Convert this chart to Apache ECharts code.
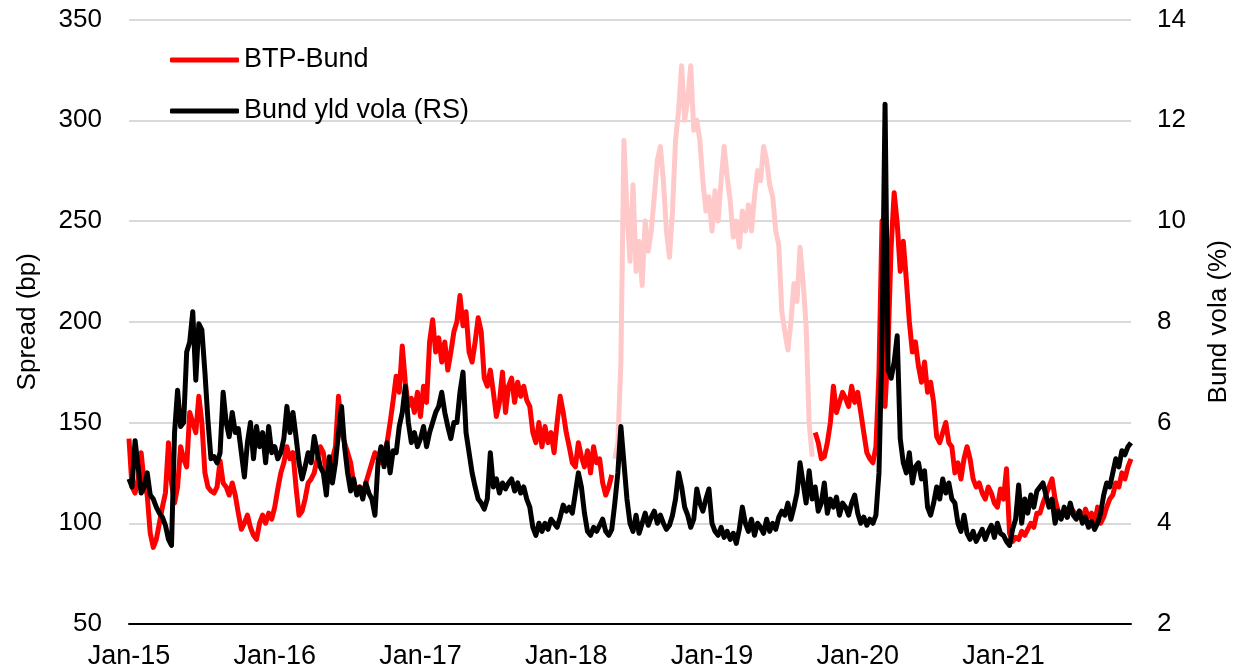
<!DOCTYPE html>
<html>
<head>
<meta charset="utf-8">
<title>BTP-Bund spread vs Bund yield volatility</title>
<script src="https://cdn.jsdelivr.net/npm/echarts@6/dist/echarts.min.js"></script>
<style>
  html, body { margin: 0; padding: 0; background: #fff; }
  #chart { width: 1240px; height: 671px; }
</style>
</head>
<body>
<div id="chart"></div>
<script>
// weekly observations (1st, 8th, 16th, 23rd of each month), Jan-15 .. mid Nov-21
const weekDays = [1, 8, 16, 23];
const firstYear = 2015;

// BTP-Bund spread, bp
const spread2015 = [142,118,115,122, 135,120,114,95, 88,92,100,108, 115,140,120,110,
  118,138,132,128, 155,150,145,163, 150,125,118,116, 115,118,131,120,
  118,114,120,114, 105,97,100,104, 98,94,92,100, 104,100,105,102];
const spread2016 = [108,117,125,130, 138,132,135,118, 104,106,112,120, 122,125,132,138,
  135,125,128,132, 138,163,145,140, 135,130,120,116, 118,114,120,125,
  130,135,132,130, 135,140,150,161, 173,165,188,170, 158,162,155,165];
const spread2017 = [153,168,160,190, 201,185,192,180, 190,176,185,195, 200,213,198,205,
  185,180,190,202, 195,172,168,176, 165,153,160,175, 155,168,172,160,
  170,163,168,161, 158,145,140,150, 138,148,140,145, 135,150,163,155];
const spread2018 = [145,138,130,128, 140,133,128,136, 125,138,130,132, 120,114,118,124,
  132,140,180,290, 255,230,268,225, 240,218,250,235, 245,262,280,287,
  270,245,232,255, 290,305,327,300, 310,327,295,300, 290,270,255,262];
const spread2019 = [245,265,250,270, 287,272,260,242, 250,237,255,245, 258,245,262,275,
  270,287,280,268, 262,245,238,205, 195,186,200,219, 210,237,220,198,
  150,133,145,140, 132,133,140,150, 168,155,160,165, 162,158,168,160];
const spread2020 = [165,155,145,135, 132,130,138,175, 250,158,188,237, 264,249,225,240,
  221,200,185,190, 178,170,180,165, 170,160,143,140, 145,150,140,138,
  125,130,122,132, 138,132,122,118, 120,115,112,118, 115,110,108,117];
const spread2021 = [112,127,95,91, 93,92,96,94, 97,100,98,105, 105,110,114,118,
  122,112,106,104, 105,103,108,106, 104,106,102,107, 103,105,100,108,
  100,103,108,112, 114,120,118,125, 122,128,132];

// Bund 10y yield volatility, % (right scale)
const vola2015 = [4.88,4.72,5.64,5.12, 4.6,4.72,5.0,4.56, 4.48,4.32,4.2,4.12, 3.96,3.68,3.56,5.8,
  6.64,5.92,6.0,7.4, 7.6,8.2,6.84,7.96, 7.84,7.0,6.04,5.28, 5.32,5.2,5.4,6.6,
  6.0,5.72,6.2,5.8, 5.88,5.4,4.92,5.6, 6.0,5.28,5.92,5.52, 5.8,5.2,5.92,5.4];
const vola2016 = [5.52,5.28,5.4,5.68, 6.32,5.8,6.2,5.72, 5.2,4.88,5.12,5.4, 5.2,5.72,5.4,5.12,
  5.0,4.56,5.32,4.8, 5.2,5.8,6.32,5.52, 5.0,4.64,4.88,4.56, 4.72,4.48,4.8,4.6,
  4.48,4.16,5.2,5.52, 5.12,5.6,5.0,5.44, 5.4,5.92,6.2,6.72, 6.0,5.6,5.8,5.52];
const vola2017 = [5.68,5.92,5.52,5.8, 6.0,6.2,6.32,6.6, 6.2,5.92,5.68,6.0, 6.0,6.6,7.0,5.8,
  5.4,5.0,4.72,4.48, 4.4,4.28,4.48,5.4, 4.72,4.88,4.6,4.8, 4.68,4.8,4.88,4.64,
  4.8,4.6,4.72,4.48, 4.32,3.92,3.76,4.0, 3.84,4.0,3.88,4.08, 4.0,3.92,4.12,4.36];
const vola2018 = [4.24,4.32,4.2,4.6, 5.0,4.72,4.2,3.84, 3.76,3.92,3.84,3.96, 4.08,3.84,3.76,3.88,
  4.4,5.0,5.92,5.2, 4.48,4.0,3.84,4.16, 3.8,4.0,4.2,3.96, 4.12,4.24,4.0,4.16,
  4.0,3.88,3.96,4.16, 4.48,5.0,4.72,4.32, 4.16,3.92,4.08,4.68, 4.4,4.24,4.48,4.68];
const vola2019 = [4.0,3.84,3.76,3.92, 3.72,3.84,3.68,3.8, 3.6,3.88,4.32,4.0, 3.84,4.08,3.76,4.0,
  3.92,3.8,4.08,3.84, 4.0,3.88,4.12,4.24, 4.16,4.4,4.08,4.32, 4.6,5.2,4.8,4.4,
  5.04,4.48,4.72,4.24, 4.4,4.8,4.2,4.48, 4.32,4.52,4.16,4.4, 4.32,4.16,4.4,4.56];
const vola2020 = [4.2,4.0,4.12,3.96, 4.08,4.0,4.16,5.0, 7.6,12.32,7.04,6.88, 7.2,7.72,5.68,5.2,
  5.0,5.4,4.8,5.12, 5.2,4.88,5.04,4.32, 4.16,4.4,4.72,4.48, 4.88,4.6,4.8,4.48,
  4.4,4.0,3.84,4.16, 3.8,3.68,3.84,3.64, 3.76,3.88,3.68,3.84, 3.96,3.72,4.0,3.8];
const vola2021 = [3.76,3.64,3.56,3.88, 4.08,4.76,4.0,4.48, 4.2,4.56,4.32,4.64, 4.72,4.8,4.56,4.32,
  4.48,4.0,4.24,4.08, 4.32,4.12,4.4,4.16, 4.08,4.24,4.0,4.12, 3.92,4.04,3.88,4.0,
  4.2,4.56,4.8,4.72, 5.0,5.28,5.12,5.44, 5.36,5.52,5.6];

// stretch of the spread drawn faded in the original
const fadedFrom = '2018-05-01';
const fadedTo = '2019-09-08';

const spread = [].concat(spread2015, spread2016, spread2017, spread2018, spread2019, spread2020, spread2021);
const vola = [].concat(vola2015, vola2016, vola2017, vola2018, vola2019, vola2020, vola2021);

const monthNames = ['Jan','Feb','Mar','Apr','May','Jun','Jul','Aug','Sep','Oct','Nov','Dec'];
const pad = n => (n < 10 ? '0' : '') + n;
const dates = [];
for (let i = 0; i < spread.length; i++) {
  const m = Math.floor(i / 4);
  const y = firstYear + Math.floor(m / 12);
  dates.push(y + '-' + pad(m % 12 + 1) + '-' + pad(weekDays[i % 4]));
}

const inFaded = d => d >= fadedFrom && d <= fadedTo;
const spreadMain = spread.map((v, i) => (inFaded(dates[i]) ? null : v));
const spreadFaded = spread.map((v, i) => (inFaded(dates[i]) ? v : null));

const font = 'Liberation Sans, Arial, sans-serif';

const chart = echarts.init(document.getElementById('chart'));
const option = {
  animation: false,
  backgroundColor: '#fff',
  textStyle: { fontFamily: font },
  grid: { left: 129, right: 108, top: 19.5, bottom: 47 },
  legend: {
    orient: 'vertical',
    left: 165,
    top: 40,
    itemWidth: 69,
    itemHeight: 5,
    itemGap: 21,
    icon: 'roundRect',
    data: ['BTP-Bund', 'Bund yld vola (RS)'],
    textStyle: { fontSize: 27, color: '#000', fontFamily: font, lineHeight: 30 }
  },
  xAxis: {
    type: 'category',
    boundaryGap: false,
    data: dates,
    axisLine: { lineStyle: { color: '#000', width: 2 } },
    axisTick: { show: false },
    axisLabel: {
      interval: (idx, val) => val.slice(5) === '01-01',
      formatter: val => monthNames[+val.slice(5, 7) - 1] + '-' + val.slice(2, 4),
      color: '#000',
      fontSize: 27,
      fontFamily: font,
      margin: 19
    },
    splitLine: { show: false }
  },
  yAxis: [
    {
      type: 'value',
      min: 50,
      max: 350,
      interval: 50,
      name: 'Spread (bp)',
      nameLocation: 'middle',
      nameRotate: 90,
      nameGap: 88,
      nameTextStyle: { fontSize: 26, color: '#000', fontFamily: font },
      axisLine: { show: false },
      axisTick: { show: false },
      axisLabel: { color: '#000', fontSize: 26, fontFamily: font, margin: 27 },
      splitLine: { lineStyle: { color: '#d9d9d9', width: 2 } }
    },
    {
      type: 'value',
      min: 2,
      max: 14,
      interval: 2,
      position: 'right',
      name: 'Bund vola (%)',
      nameLocation: 'middle',
      nameRotate: 90,
      nameGap: 75,
      nameTextStyle: { fontSize: 26, color: '#000', fontFamily: font },
      axisLine: { show: false },
      axisTick: { show: false },
      axisLabel: { color: '#000', fontSize: 26, fontFamily: font, margin: 26 },
      splitLine: { show: false }
    }
  ],
  series: [
    {
      name: 'BTP-Bund',
      type: 'line',
      yAxisIndex: 0,
      data: spreadMain,
      symbol: 'none',
      color: '#ff0000',
      lineStyle: { color: '#ff0000', width: 5, join: 'round' }
    },
    {
      name: 'BTP-Bund (faded)',
      type: 'line',
      yAxisIndex: 0,
      data: spreadFaded,
      symbol: 'none',
      color: '#ffc9c9',
      lineStyle: { color: '#ffc9c9', width: 5, join: 'round' }
    },
    {
      name: 'Bund yld vola (RS)',
      type: 'line',
      yAxisIndex: 1,
      data: vola,
      symbol: 'none',
      color: '#000',
      lineStyle: { color: '#000', width: 5, join: 'round' }
    }
  ]
};
chart.setOption(option);
window.addEventListener('resize', function () {
  chart.resize();
});
</script>
</body>
</html>
